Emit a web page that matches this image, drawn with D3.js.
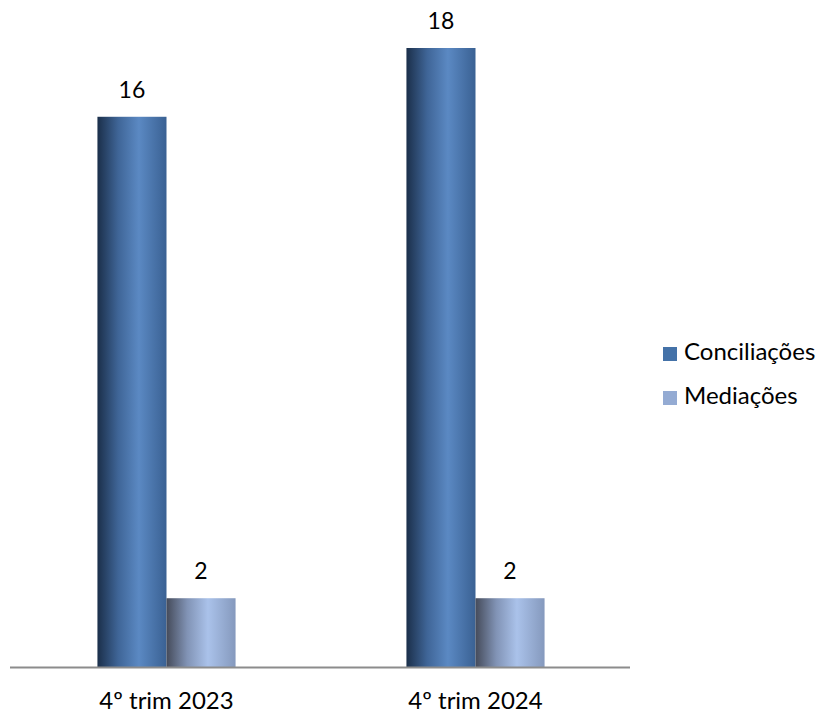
<!DOCTYPE html>
<html><head><meta charset="utf-8">
<script src="https://cdn.jsdelivr.net/npm/d3@7"></script>
<style>body{margin:0;background:#fff}svg{display:block}text{font-family:Lato,"Open Sans",sans-serif;fill:#000}</style>
</head><body><svg id="c" width="821" height="713"></svg>
<script>
const categories = ["4º trim 2023", "4º trim 2024"];
const seriesNames = ["Conciliações", "Mediações"];
const conciliacoes = [16, 18];
const mediacoes = [2, 2];

const svg = d3.select("#c");
const x0 = d3.scaleBand().domain(categories).range([12, 630]).paddingInner(0.553).paddingOuter(0.2765);
const x1 = d3.scaleBand().domain(seriesNames).range([0, x0.bandwidth()]);
const y = d3.scaleLinear().domain([0, 18]).range([667, 48]);

const defs = svg.append("defs");
const grads = {
  "Conciliações": [["0%", "#1b2f4a"], ["30%", "#3f6597"], ["60%", "#5b89c3"], ["100%", "#3a6193"]],
  "Mediações": [["0%", "#454b5a"], ["30%", "#8193b5"], ["60%", "#aac2ea"], ["100%", "#8599bd"]]
};
seriesNames.forEach((s, i) => {
  const g = defs.append("linearGradient").attr("id", "g" + i).attr("x1", "0").attr("x2", "1").attr("y1", "0").attr("y2", "0");
  grads[s].forEach(([o, c]) => g.append("stop").attr("offset", o).attr("stop-color", c));
});

const data = categories.map((c, i) => ({ cat: c, vals: [conciliacoes[i], mediacoes[i]] }));
const groups = svg.selectAll("g.grp").data(data).join("g").attr("class", "grp")
  .attr("transform", d => `translate(${x0(d.cat)},0)`);
groups.selectAll("rect").data(d => d.vals.map((v, i) => ({ s: seriesNames[i], v, i })))
  .join("rect")
  .attr("x", d => x1(d.s)).attr("width", x1.bandwidth())
  .attr("y", d => y(d.v)).attr("height", d => y(0) - y(d.v))
  .attr("fill", d => `url(#g${d.i})`);
groups.selectAll("text.val").data(d => d.vals.map((v, i) => ({ s: seriesNames[i], v })))
  .join("text").attr("class", "val")
  .attr("x", d => x1(d.s) + x1.bandwidth() / 2).attr("y", d => y(d.v) - 19)
  .attr("text-anchor", "middle").attr("font-size", 23).text(d => d.v);

// axis
const axis = svg.append("g").attr("transform", `translate(0,${y(0)})`)
  .call(d3.axisBottom(x0).tickSize(0).tickPadding(25));
axis.select(".domain").attr("stroke", "#8c8c8c").attr("stroke-width", 2).attr("d", "M10,0.5H630");
axis.selectAll(".tick text").attr("font-size", 24).attr("font-family", "Lato, 'Open Sans', sans-serif").attr("fill", "#000");

// legend
const legColors = ["#4472a8", "#94abd3"];
const leg = svg.append("g").selectAll("g").data(seriesNames).join("g")
  .attr("transform", (d, i) => `translate(663,${347 + i * 44})`);
leg.append("rect").attr("width", 14).attr("height", 14).attr("fill", (d, i) => legColors[i]);
leg.append("text").attr("x", 21).attr("y", 13).attr("font-size", 24).text(d => d);
</script></body></html>
